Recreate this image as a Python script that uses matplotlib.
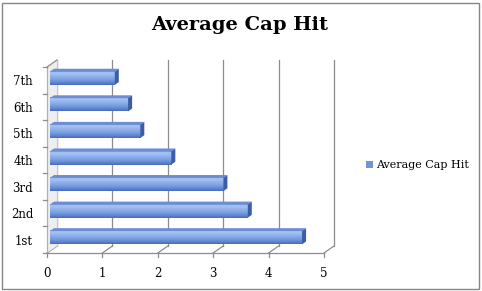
import numpy as np
import matplotlib
matplotlib.use("Agg")
import matplotlib.pyplot as plt
from matplotlib.patches import Polygon, Rectangle, Patch
from matplotlib.colors import LinearSegmentedColormap

# data
categories = ["1st", "2nd", "3rd", "4th", "5th", "6th", "7th"]
cap_hit = [4.55, 3.57, 3.13, 2.19, 1.63, 1.41, 1.17]
x_ticks = [0, 1, 2, 3, 4, 5]
series_name = "Average Cap Hit"

plt.rcParams['font.family'] = ['DejaVu Serif']

W, H = 482, 291
fig = plt.figure(figsize=(W / 100, H / 100), dpi=100)
ax = fig.add_axes([47 / W, (H - 253) / H, (324 - 47) / W, (253 - 67) / H])
ax.set_xlim(0, 5)
ax.set_ylim(-0.5, len(categories) - 0.5)
for s in ax.spines.values():
    s.set_visible(False)
ax.patch.set_visible(False)

# depth of the fake 3d box in data units (10 px right, 7 px up)
px_x = (324 - 47) / 5.0
px_y = (253 - 67) / len(categories)
DX, DY = 10 / px_x, 7 / px_y

grid_c = "#8c8c8c"
# back wall grid lines + floor diagonals
for t in x_ticks:
    ax.plot([t + DX, t + DX], [-0.5 + DY, len(categories) - 0.5 + DY],
            color=grid_c, lw=0.9, clip_on=False, zorder=1)
    ax.plot([t, t + DX], [-0.5, -0.5 + DY], color=grid_c, lw=0.9, clip_on=False, zorder=1)
    ax.plot([t, t], [-0.5, -0.5 - 4 / px_y], color=grid_c, lw=0.9, clip_on=False, zorder=1)
# front edge of floor
ax.plot([0, 5], [-0.5, -0.5], color=grid_c, lw=0.9, clip_on=False, zorder=1)

# left wall
top = len(categories) - 0.5
wall = Polygon([[0, -0.5], [DX, -0.5 + DY], [DX, top + DY], [0, top]],
               closed=True, facecolor="#eeeeee", edgecolor="none", clip_on=False, zorder=1)
ax.add_patch(wall)
ax.plot([0, 0], [-0.5, top], color="#b0b0b0", lw=0.9, clip_on=False, zorder=2)
ax.plot([0, DX], [top, top + DY], color=grid_c, lw=0.9, clip_on=False, zorder=2)
ax.plot([DX, DX], [-0.5 + DY, top + DY], color="#c8c8c8", lw=0.8, clip_on=False, zorder=1)
for i in range(len(categories) + 1):
    ax.plot([0, -4 / px_x], [i - 0.5, i - 0.5], color=grid_c, lw=0.9, clip_on=False, zorder=2)

# bars with gradient and 3d faces
cmap = LinearSegmentedColormap.from_list(
    "bar", [(0.0, "#4468b8"), (0.12, "#5a80cc"), (0.4, "#7a9fe2"),
            (0.8, "#a2bff0"), (0.92, "#a6c2f2"), (1.0, "#6488d0")])
grad = np.linspace(0, 1, 64).reshape(-1, 1)
h = 0.5
f0, f1 = 0.3, 0.7  # bar front/back depth fraction
ys = np.arange(len(categories))
for y, v in zip(ys, cap_hit):
    ox, oy = DX * f0, DY * f0
    bx, by = DX * f1, DY * f1
    x0, x1 = ox, v + ox
    yb, yt = y - h / 2 + oy, y + h / 2 + oy
    ax.imshow(grad, extent=[x0, x1, yb, yt], origin="lower", cmap=cmap,
              aspect="auto", interpolation="bilinear", zorder=3, clip_on=False)
    topf = Polygon([[x0, yt], [x1, yt], [v + bx, y + h / 2 + by], [bx, y + h / 2 + by]],
                   closed=True, facecolor="#6a8dd4", edgecolor="none", zorder=3, clip_on=False)
    endf = Polygon([[x1, yb], [v + bx, y - h / 2 + by], [v + bx, y + h / 2 + by], [x1, yt]],
                   closed=True, facecolor="#3a5ea6", edgecolor="none", zorder=3, clip_on=False)
    ax.add_patch(topf)
    ax.add_patch(endf)

ax.set_xlim(0, 5)
ax.set_ylim(-0.5, len(categories) - 0.5)

ax.set_xticks(x_ticks)
ax.set_xticklabels([str(t) for t in x_ticks], fontsize=8.5)
ax.tick_params(axis="x", length=0, pad=10)
ax.set_yticks(ys)
ax.set_yticklabels(categories, fontsize=8.5)
ax.tick_params(axis="y", length=0, pad=10)

fig.text(240 / W, 1 - 25 / H, "Average Cap Hit", ha="center", va="center",
         fontsize=14, fontweight="bold")

fig.legend(handles=[Patch(facecolor="#6f95da", edgecolor="none")], labels=[series_name],
           loc="center left", bbox_to_anchor=(356 / W, 1 - 165 / H), frameon=False,
           fontsize=8, handlelength=0.6, handleheight=0.6, handletextpad=0.3)

fig.patches.append(Rectangle((1.5 / W, 2.5 / H), 477 / W, 286 / H, transform=fig.transFigure,
                             fill=False, edgecolor="#868686", lw=1))

fig.savefig("out.png", dpi=100)
